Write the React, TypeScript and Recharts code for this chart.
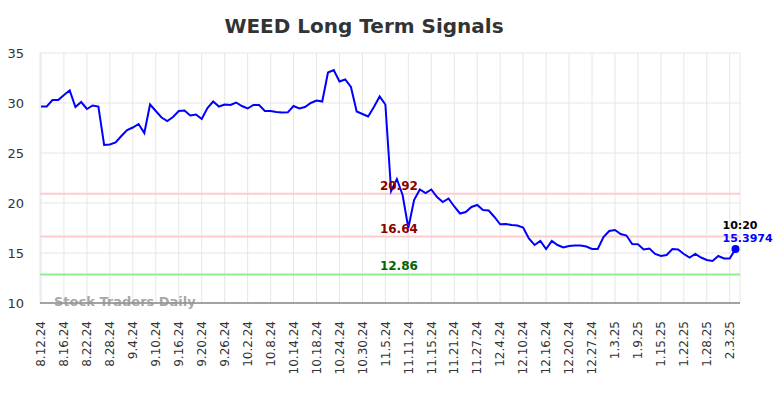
import React from 'react';
import { LineChart, Line, XAxis, YAxis, CartesianGrid, ReferenceLine, ReferenceDot } from 'recharts';

const dates = [
  '8.12.24', '8.13.24', '8.14.24', '8.15.24', '8.16.24', '8.19.24', '8.20.24', '8.21.24', '8.22.24', '8.23.24',
  '8.26.24', '8.27.24', '8.28.24', '8.29.24', '8.30.24',
  '9.3.24', '9.4.24', '9.5.24', '9.6.24', '9.9.24', '9.10.24', '9.11.24', '9.12.24', '9.13.24', '9.16.24',
  '9.17.24', '9.18.24', '9.19.24', '9.20.24', '9.23.24', '9.24.24', '9.25.24', '9.26.24', '9.27.24', '9.30.24',
  '10.1.24', '10.2.24', '10.3.24', '10.4.24', '10.7.24', '10.8.24', '10.9.24', '10.10.24', '10.11.24', '10.14.24',
  '10.15.24', '10.16.24', '10.17.24', '10.18.24', '10.21.24', '10.22.24', '10.23.24', '10.24.24', '10.25.24',
  '10.28.24', '10.29.24', '10.30.24', '10.31.24',
  '11.1.24', '11.4.24', '11.5.24', '11.6.24', '11.7.24', '11.8.24', '11.11.24', '11.12.24', '11.13.24', '11.14.24',
  '11.15.24', '11.18.24', '11.19.24', '11.20.24', '11.21.24', '11.22.24', '11.25.24', '11.26.24', '11.27.24', '11.29.24',
  '12.2.24', '12.3.24', '12.4.24', '12.5.24', '12.6.24', '12.9.24', '12.10.24', '12.11.24', '12.12.24', '12.13.24',
  '12.16.24', '12.17.24', '12.18.24', '12.19.24', '12.20.24', '12.23.24', '12.24.24', '12.26.24', '12.27.24',
  '12.30.24', '12.31.24',
  '1.2.25', '1.3.25', '1.6.25', '1.7.25', '1.8.25', '1.9.25', '1.10.25', '1.13.25', '1.14.25', '1.15.25',
  '1.16.25', '1.17.25', '1.21.25', '1.22.25', '1.23.25', '1.24.25', '1.27.25', '1.28.25', '1.29.25', '1.30.25',
  '1.31.25', '2.3.25', '2.4.25',
];

const prices = [
  29.65, 29.65, 30.3, 30.3, 30.8, 31.25, 29.6, 30.1, 29.4, 29.75,
  29.65, 25.8, 25.85, 26.05, 26.7, 27.3, 27.55, 27.9, 27.0, 29.85,
  29.2, 28.55, 28.2, 28.6, 29.2, 29.25, 28.75, 28.85, 28.4, 29.5,
  30.15, 29.65, 29.85, 29.8, 30.05, 29.7, 29.45, 29.8, 29.8, 29.2,
  29.2, 29.1, 29.05, 29.07, 29.7, 29.45, 29.6, 30.0, 30.25, 30.15,
  33.05, 33.3, 32.15, 32.35, 31.6, 29.15, 28.9, 28.65, 29.6, 30.65,
  29.85, 21.2, 22.4, 20.8, 17.5, 20.3, 21.35, 21.0, 21.35, 20.6,
  20.1, 20.45, 19.65, 18.95, 19.1, 19.6, 19.8, 19.3, 19.25, 18.6,
  17.87, 17.9, 17.8, 17.75, 17.55, 16.45, 15.8, 16.2, 15.4, 16.2,
  15.8, 15.55, 15.7, 15.75, 15.75, 15.65, 15.4, 15.4, 16.6, 17.2,
  17.3, 16.9, 16.75, 15.9, 15.87, 15.35, 15.45, 14.9, 14.7, 14.8,
  15.4, 15.35, 14.9, 14.55, 14.9, 14.55, 14.3, 14.2, 14.7, 14.45,
  14.45, 15.3974,
];

const yTicks = [10, 15, 20, 25, 30, 35];

// signal levels: [value, line colour, label colour]
const signals: [number, string, string][] = [
  [20.92, '#ffcccc', '#8b0000'],
  [16.64, '#ffcccc', '#8b0000'],
  [12.86, '#90ee90', '#006400'],
];
const signalLabelDate = dates[62];

const lastTime = '10:20';

const data = dates.map((date, i) => ({ date, price: prices[i] }));
const lastDate = dates[dates.length - 1];
const lastPrice = prices[prices.length - 1];

const FONT = 'DejaVu Sans';

function XTick(props: any) {
  const { x, y, payload } = props;
  return (
    <g transform={`translate(${x},${y})`}>
      <text transform="rotate(-90)" x={-18} y={0} dy="0.35em" textAnchor="end" fontSize={12} fill="#333" fontFamily={FONT}>
        {payload.value}
      </text>
    </g>
  );
}

export default function App() {
  return (
    <div style={{ position: 'absolute', left: 0, top: 0, width: 784, height: 398, background: '#fff' }}>
      <div
        style={{
          position: 'absolute',
          left: -28,
          top: 14,
          width: 784,
          textAlign: 'center',
          fontFamily: FONT,
          fontWeight: 'bold',
          fontSize: 20,
          color: '#333',
        }}
      >
        WEED Long Term Signals
      </div>
      <LineChart width={784} height={398} data={data} margin={{ top: 53, right: 44, left: 0, bottom: 0 }}>
        <CartesianGrid stroke="#e6e6e6" strokeWidth={1} />
        <XAxis
          dataKey="date"
          interval={3}
          padding={{ left: 1, right: 4.5 }}
          height={95}
          tick={<XTick />}
          tickLine={false}
          tickSize={0}
          tickMargin={0}
          axisLine={{ stroke: '#555', strokeWidth: 1 }}
        />
        <YAxis
          domain={[10, 35]}
          ticks={yTicks}
          width={40}
          axisLine={false}
          tickLine={false}
          tickSize={0}
          tickMargin={16}
          tick={{ fill: '#333', fontSize: 13, fontFamily: FONT }}
        />
        {signals.map(([v, stroke]) => (
          <ReferenceLine key={`l${v}`} y={v} stroke={stroke} strokeWidth={2} />
        ))}
        <Line
          type="linear"
          dataKey="price"
          stroke="#0000ff"
          strokeWidth={2}
          dot={false}
          isAnimationActive={false}
        />
        {signals.map(([v, , color]) => (
          <ReferenceDot
            key={`d${v}`}
            x={signalLabelDate}
            y={v}
            r={0}
            fill="none"
            stroke="none"
            label={(p: any) => (
              <text
                x={p.viewBox.x + 2}
                y={p.viewBox.y - 4}
                textAnchor="middle"
                fontSize={12}
                fontWeight="bold"
                fill={color}
                fontFamily={FONT}
              >
                {v.toFixed(2)}
              </text>
            )}
          />
        ))}
        <ReferenceDot
          x={lastDate}
          y={lastPrice}
          r={4}
          fill="#0000ff"
          stroke="none"
          label={(p: any) => (
            <g fontFamily={FONT} fontWeight="bold" fontSize={11}>
              <text x={p.viewBox.x + 4 - 13} y={p.viewBox.y + 4 - 20} fill="#000">
                {lastTime}
              </text>
              <text x={p.viewBox.x + 4 - 13} y={p.viewBox.y + 4 - 7} fill="#0000ff">
                {lastPrice}
              </text>
            </g>
          )}
        />
      </LineChart>
      <div
        style={{
          position: 'absolute',
          left: 54,
          top: 294,
          fontFamily: FONT,
          fontWeight: 'bold',
          fontSize: 13,
          color: 'rgba(150,150,150,0.85)',
          pointerEvents: 'none',
        }}
      >
        Stock Traders Daily
      </div>
    </div>
  );
}
